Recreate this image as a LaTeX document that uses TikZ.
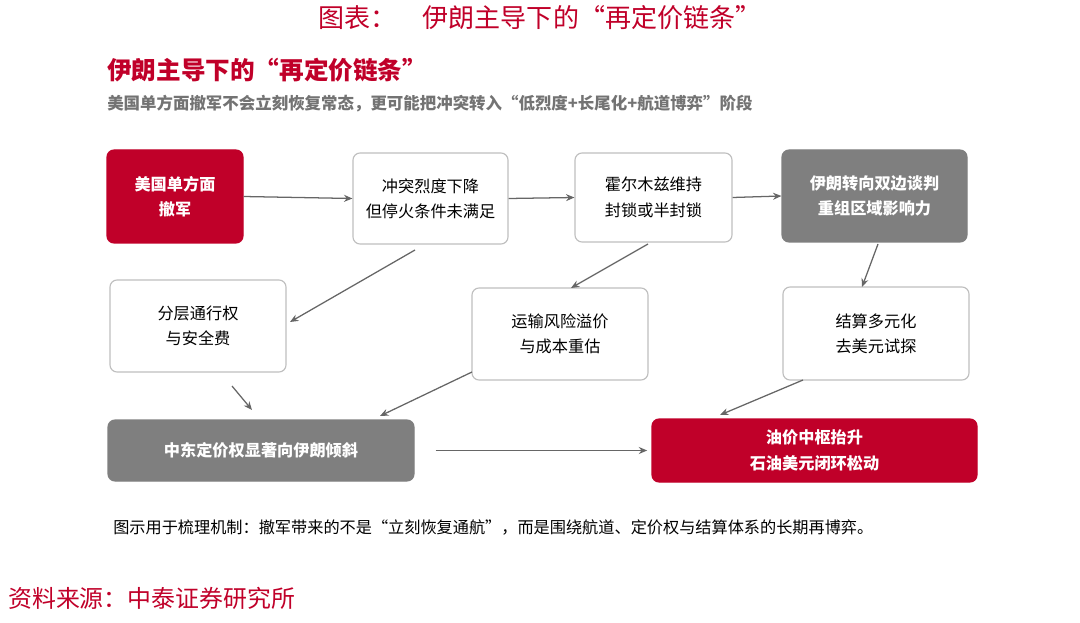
\documentclass[tikz,border=0pt]{standalone}
\usepackage{fontspec}
\setmainfont{Noto Sans CJK SC}
\usetikzlibrary{arrows.meta}
\definecolor{hired}{HTML}{C00029}
\definecolor{midgray}{HTML}{7F7F7F}
\tikzset{
  box/.style={rounded corners=5pt, draw=black!25, line width=0.8pt, fill=white, align=center, font=\fontsize{11.5}{18}\selectfont, inner sep=0pt},
  redbox/.style={box, draw=hired, fill=hired, text=white, font=\fontsize{11.5}{18}\selectfont\bfseries},
  graybox/.style={box, draw=midgray, fill=midgray, text=white, font=\fontsize{11.5}{18}\selectfont\bfseries},
  link/.style={-{Stealth[length=6pt,width=5pt]}, draw=black!60, line width=0.9pt}
}
\begin{document}
\begin{tikzpicture}[x=0.025cm,y=-0.025cm]
\useasboundingbox (0,0) rectangle (1080,623);

        %===========================
        % Titles
        %===========================
        \node (title) at (540,18) [text=hired, font=\fontsize{18.5}{20}\selectfont]{图表：\quad 伊朗主导下的“再定价链条”};
        \node (sub) at (107,70) [anchor=west, inner sep=0, text=hired, font=\fontsize{17.5}{19}\selectfont\bfseries]{伊朗主导下的“再定价链条”};
        \node (lead) at (107,104) [anchor=west, inner sep=0, text=black!55, font=\fontsize{11.7}{13}\selectfont\bfseries]{美国单方面撤军不会立刻恢复常态，更可能把冲突转入“低烈度+长尾化+航道博弈”阶段};

        %===========================
        % Boxes
        %===========================
        \node (A) [redbox] at (175,196.5) {\parbox[c][93\dimexpr0.025cm][c]{136\dimexpr0.025cm}{\centering 美国单方面\\撤军}};
        \node (B) [box] at (430.5,198.5) {\parbox[c][91\dimexpr0.025cm][c]{155\dimexpr0.025cm}{\centering 冲突烈度下降\\但停火条件未满足}};
        \node (C) [box] at (653.5,197.5) {\parbox[c][89\dimexpr0.025cm][c]{157\dimexpr0.025cm}{\centering 霍尔木兹维持\\封锁或半封锁}};
        \node (D) [graybox] at (874.5,196) {\parbox[c][92\dimexpr0.025cm][c]{185\dimexpr0.025cm}{\centering 伊朗转向双边谈判\\重组区域影响力}};
        \node (E) [box] at (198,326) {\parbox[c][92\dimexpr0.025cm][c]{176\dimexpr0.025cm}{\centering 分层通行权\\与安全费}};
        \node (F) [box] at (560,334) {\parbox[c][92\dimexpr0.025cm][c]{176\dimexpr0.025cm}{\centering 运输风险溢价\\与成本重估}};
        \node (G) [box] at (876,333.5) {\parbox[c][93\dimexpr0.025cm][c]{186\dimexpr0.025cm}{\centering 结算多元化\\去美元试探}};
        \node (H) [graybox] at (261,450.5) {\parbox[c][61\dimexpr0.025cm][c]{306\dimexpr0.025cm}{\centering 中东定价权显著向伊朗倾斜}};
        \node (I) [redbox] at (814.5,450.5) {\parbox[c][63\dimexpr0.025cm][c]{325\dimexpr0.025cm}{\centering 油价中枢抬升\\石油美元闭环松动}};

        %===========================
        % Links
        %===========================
        \coordinate (b1) at (415,250);  \coordinate (e1) at (290,322);
        \coordinate (c1) at (648,244);  \coordinate (f1) at (571,288);
        \coordinate (d1) at (878,244);  \coordinate (g1) at (862,287);
        \coordinate (e2) at (232,386);  \coordinate (h1) at (252,410);
        \coordinate (f2) at (472,372);  \coordinate (h2) at (380,416);
        \coordinate (g2) at (803,380);  \coordinate (i1) at (720,415);
        \draw[link] (A.east) -- (B.west);
        \draw[link] (B.east) -- (C.west);
        \draw[link] (C.east) -- (D.west);
        \draw[link] (b1) -- (e1);
        \draw[link] (c1) -- (f1);
        \draw[link] (d1) -- (g1);
        \draw[link] (e2) -- (h1);
        \draw[link] (f2) -- (h2);
        \draw[link] (g2) -- (i1);
        \draw[link, shorten <=15pt, shorten >=3pt] (H.east) -- (I.west);

        %===========================
        % Notes
        %===========================
        \node (note) at (113,527) [anchor=west, inner sep=0, font=\fontsize{11.5}{13}\selectfont]{图示用于梳理机制：撤军带来的不是“立刻恢复通航”，而是围绕航道、定价权与结算体系的长期再博弈。};
        \node (src) at (8,598) [anchor=west, inner sep=0, text=hired, font=\fontsize{17}{19}\selectfont]{资料来源：中泰证券研究所};
\end{tikzpicture}
\end{document}
